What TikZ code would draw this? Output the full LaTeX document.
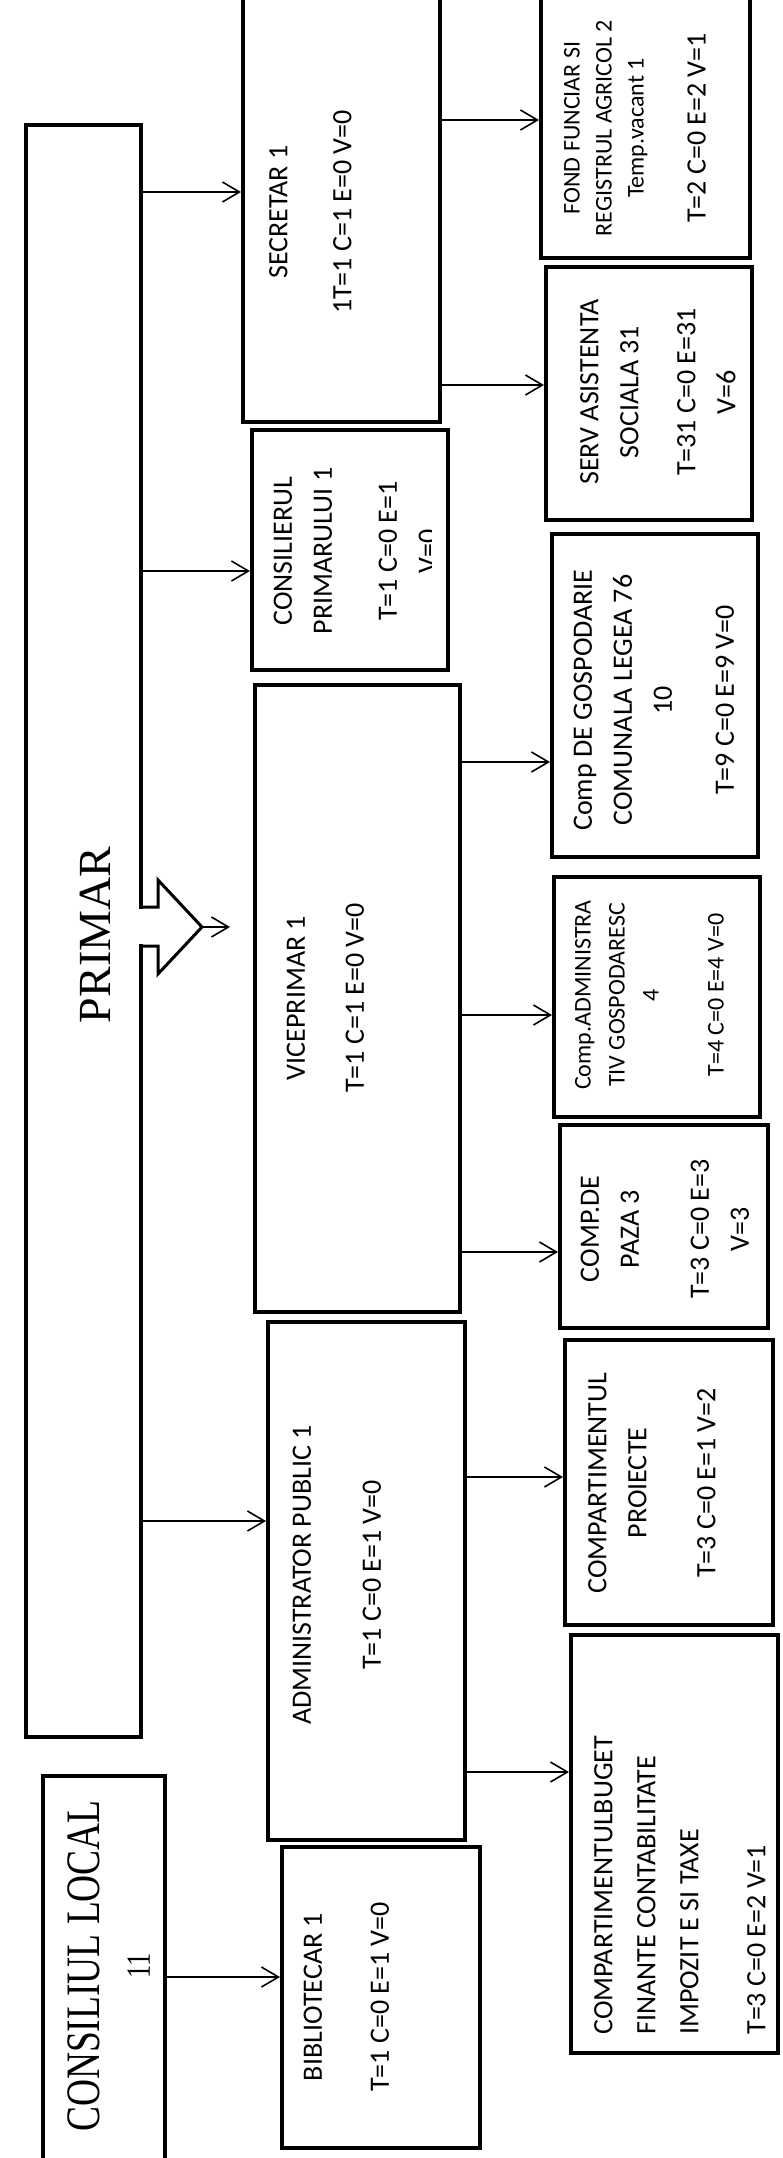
\documentclass[tikz,border=0pt]{standalone}
\usepackage{fontspec}
\setmainfont{Carlito}
\newfontfamily\serifcond[FakeStretch=0.78]{Liberation Serif}
\newfontfamily\serifreg{Liberation Serif}
\usetikzlibrary{arrows.meta}

\begin{document}
\begin{tikzpicture}[x=0.5pt,y=-0.5pt,
    box/.style={draw, line width=2pt, inner sep=0pt},
    arr/.style={-{Straight Barb[length=8.5pt,width=10pt]}, line width=0.8pt},
    lbl/.style={rotate=90, align=center, inner sep=0pt,
        font=\fontsize{14}{20}\selectfont},
    smalllbl/.style={lbl, font=\fontsize{12}{17}\selectfont}]

\useasboundingbox (0,0) rectangle (782,2158);

% left column
\node[box,
    line width=1.8pt,
    minimum width=57.5pt,
    minimum height=806pt
] (primar) at (83.5,931) {};

\node[box,
    minimum width=61pt,
    minimum height=212pt
] (consl) at (104,1988) {};

% middle column
\node[box, minimum width=98.5pt, minimum height=221pt] (sec) at (341.5,201) {};
\node[box, minimum width=98pt, minimum height=120pt] (consil) at (350,550) {};
\node[box, minimum width=102.5pt, minimum height=313.5pt] (vice) at (357.5,998.5) {};
\node[box, minimum width=98.5pt, minimum height=259pt] (admin) at (366.5,1581) {};
\node[box, minimum width=99pt, minimum height=150.5pt] (bib) at (381,1997.5) {};

% right column
\node[box, minimum width=104.5pt, minimum height=139pt] (fond) at (645.5,119) {};
\node[box, minimum width=103pt, minimum height=126.5pt] (serv) at (649,393.5) {};
\node[box, minimum width=103pt, minimum height=161.5pt] (gosp) at (655,695.5) {};
\node[box, minimum width=103pt, minimum height=120pt] (cadm) at (657,997) {};
\node[box, minimum width=104pt, minimum height=101.5pt] (paza) at (664,1226.5) {};
\node[box, minimum width=104pt, minimum height=142.5pt] (proi) at (669,1482.5) {};
\node[box, minimum width=103.5pt, minimum height=209pt] (buget) at (674.5,1844) {};

% texts
\node[lbl, font=\serifreg\fontsize{23}{25}\selectfont] (primar-t) at (95,935) {PRIMAR};
\node[lbl, font=\serifcond\fontsize{24}{25}\selectfont] (consl-t) at (109,1966)
    {CONSILIUL LOCAL\\{\fontsize{17}{25}\selectfont 11}};

\node[lbl] (sec-t) at (310.5,212) {SECRETAR 1\\[12pt]1T=1 C=1 E=0 V=0};
\begin{scope}
\clip (252,430) rectangle (431,670);
\node[lbl] (consil-t) at (355.5,551) {CONSILIERUL\\PRIMARULUI 1\\[12.5pt]T=1 C=0 E=1\\V=0};
\end{scope}
\node[lbl] (vice-t) at (325.5,998) {VICEPRIMAR 1\\[9.5pt]T=1 C=1 E=0 V=0};
\node[lbl] (admin-t) at (337,1575) {ADMINISTRATOR PUBLIC 1\\[15pt]T=1 C=0 E=1 V=0};
\node[lbl] (bib-t) at (346.5,1997) {BIBLIOTECAR 1\\[13.5pt]T=1 C=0 E=1 V=0};

\node[smalllbl, font=\fontsize{12}{16}\selectfont] (fond-t) at (635,128)
    {FOND FUNCIAR SI\\REGISTRUL AGRICOL 2\\Temp.vacant 1\\[15pt]{\fontsize{14}{16}\selectfont T=2 C=0 E=2 V=1}};
\node[lbl] (serv-t) at (658,392) {SERV ASISTENTA\\SOCIALA 31\\[8.5pt]T=31 C=0 E=31\\V=6};
\node[lbl] (gosp-t) at (654,700) {Comp DE GOSPODARIE\\COMUNALA LEGEA 76\\10\\[11pt]T=9 C=0 E=9 V=0};
\node[smalllbl] (cadm-t) at (649.5,995) {Comp.ADMINISTRA\\TIV GOSPODARESC\\4\\[15.5pt]T=4 C=0 E=4 V=0};
\node[lbl] (paza-t) at (665,1229) {COMP.DE\\PAZA 3\\[15pt]T=3 C=0 E=3\\V=3};
\node[lbl] (proi-t) at (652,1483) {COMPARTIMENTUL\\PROIECTE\\[14.5pt]T=3 C=0 E=1 V=2};
\node[lbl, align=left, anchor=west, font=\fontsize{14}{21.5}\selectfont] (buget-t) at (680,2035)
    {COMPARTIMENTULBUGET\\FINANTE CONTABILITATE\\IMPOZIT E SI TAXE\\[12pt]T=3 C=0 E=2 V=1};

% block arrow out of PRIMAR
\coordinate (bt) at (202,927);
\fill[white] (138,909) rectangle (160,944);
\draw[line width=1.5pt, line join=miter] (primar.east |- 0,907) -- (158,907) -- (158,880)
    -- (bt) -- (158,974) -- (158,946) -- (primar.east |- 0,946);
\draw[arr] (bt) -- ++(28,0);

% connectors
\draw[arr] (primar.east |- 0,192) -- (sec.west |- 0,192);
\draw[arr] (primar.east |- 0,571) -- (consil.west |- 0,571);
\draw[arr] (primar.east |- 0,1521) -- (admin.west |- 0,1521);
\draw[arr] (consl.east |- 0,1977) -- (bib.west |- 0,1977);

\draw[arr] (sec.east |- 0,120) -- (fond.west |- 0,120);
\draw[arr] (sec.east |- 0,385) -- (serv.west |- 0,385);

\draw[arr] (vice.east |- 0,762) -- (gosp.west |- 0,762);
\draw[arr] (vice.east |- 0,1015) -- (cadm.west |- 0,1015);
\draw[arr] (vice.east |- 0,1252) -- (paza.west |- 0,1252);

\draw[arr] (admin.east |- 0,1477) -- (proi.west |- 0,1477);
\draw[arr] (admin.east |- 0,1772) -- (buget.west |- 0,1772);

\end{tikzpicture}
\end{document}
